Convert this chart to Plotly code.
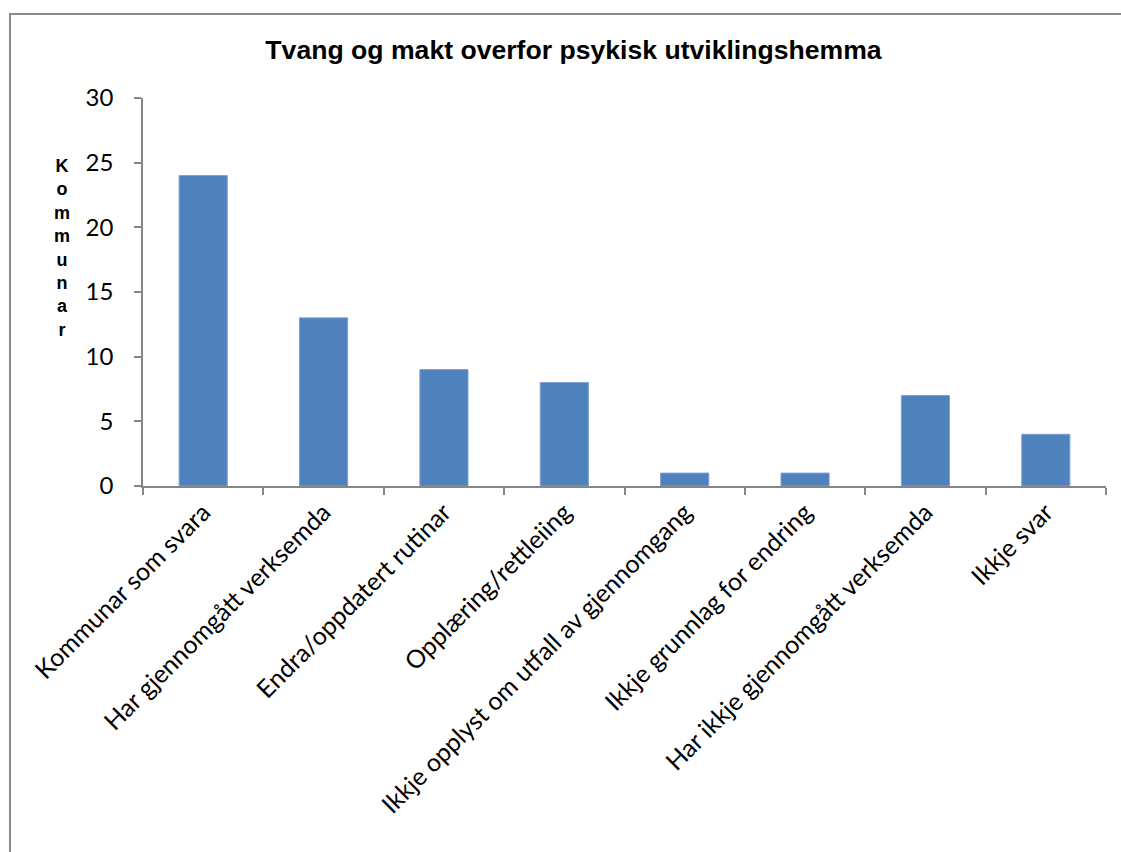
import plotly.graph_objects as go

# Categories and counts of municipalities
categories = [
    "Kommunar som svara",
    "Har gjennomgått verksemda",
    "Endra/oppdatert rutinar",
    "Opplæring/rettleiing",
    "Ikkje opplyst om utfall av gjennomgang",
    "Ikkje grunnlag for endring",
    "Har ikkje gjennomgått verksemda",
    "Ikkje svar",
]
counts = [24, 13, 9, 8, 1, 1, 7, 4]
y_ticks = [0, 5, 10, 15, 20, 25, 30]

title_text = "Tvang og makt overfor psykisk utviklingshemma"
y_title = "Kommunar"

W, H = 1121, 852
L, R, T, B = 143, 15, 98, 366
plot_w = W - L - R
plot_h = H - T - B

fig = go.Figure(
    go.Bar(
        x=categories,
        y=counts,
        marker=dict(color="#4F81BD", line=dict(color="#7DA2D4", width=1)),
        hoverinfo="x+y",
    )
)

axis_color = "#868686"
font_family = "Lato, Carlito, 'Open Sans', sans-serif"

fig.update_layout(
    width=W,
    height=H,
    margin=dict(l=L, r=R, t=T, b=B, autoexpand=False),
    paper_bgcolor="white",
    plot_bgcolor="white",
    bargap=0.6,
    showlegend=False,
    title=dict(
        text=title_text,
        x=573.5 / W,
        xref="container",
        xanchor="center",
        y=1 - 50 / H,
        yref="container",
        yanchor="middle",
        font=dict(family="Liberation Sans, Arial, sans-serif", size=26.6, color="#000000", weight="bold"),
    ),
    xaxis=dict(
        type="category",
        showline=True,
        linecolor=axis_color,
        linewidth=1.5,
        ticks="outside",
        tickson="boundaries",
        ticklen=7,
        tickcolor=axis_color,
        tickwidth=1.5,
        tickangle=-45,
        tickfont=dict(family=font_family, size=25, color="#000000"),
        showgrid=False,
        zeroline=False,
    ),
    yaxis=dict(
        range=[0, 30],
        tickvals=y_ticks,
        showline=True,
        linecolor=axis_color,
        linewidth=1.5,
        ticks="outside",
        ticklen=7,
        tickcolor=axis_color,
        tickwidth=1.5,
        tickfont=dict(family=font_family, size=24, color="#000000"),
        showgrid=False,
        zeroline=False,
        ticklabelstandoff=16,
    ),
)

# Vertical axis title with stacked letters
fig.add_annotation(
    text="<br>".join(y_title),
    x=(62 - L) / plot_w,
    y=(H - B - 248) / plot_h,
    xref="paper",
    yref="paper",
    xanchor="center",
    yanchor="middle",
    showarrow=False,
    font=dict(family="Liberation Sans, Arial, sans-serif", size=18, color="#000000", weight="bold"),
)

# Chart-area frame
fig.add_shape(
    type="rect",
    xref="paper",
    yref="paper",
    x0=(10 - L) / plot_w,
    x1=(W + 20 - L) / plot_w,
    y0=(H - B - (H + 20)) / plot_h,
    y1=(H - B - 14) / plot_h,
    line=dict(color="#8C8C8C", width=2),
    fillcolor="rgba(0,0,0,0)",
    layer="below",
)

fig.write_html("out.html")
